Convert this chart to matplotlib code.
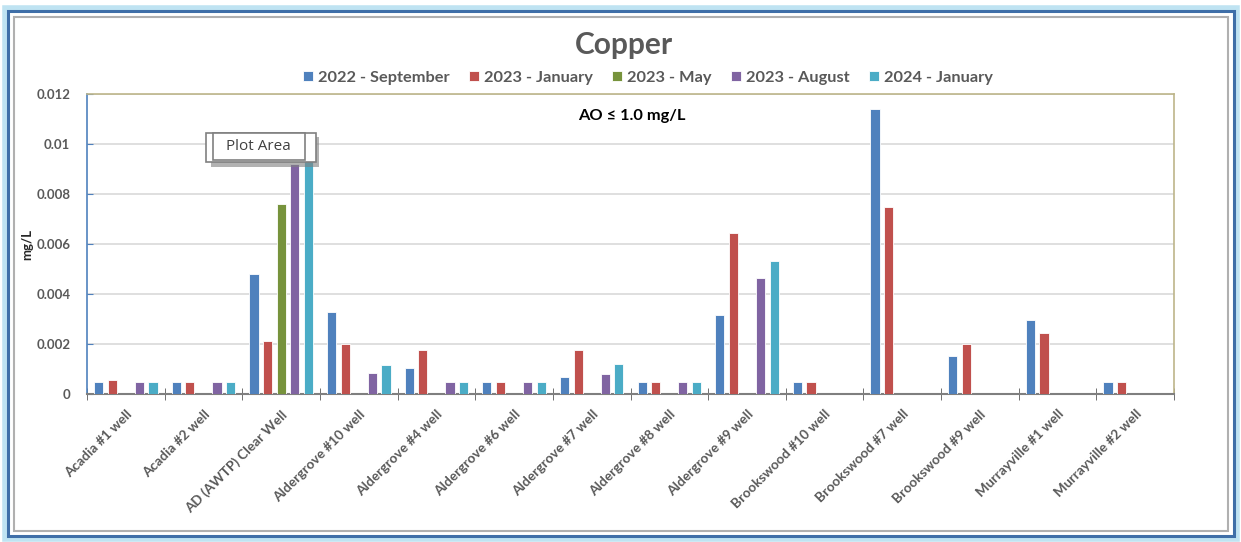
import numpy as np
import matplotlib.pyplot as plt
from matplotlib.patches import Rectangle

# Dados do gráfico (mg/L)
locais = ['Acadia #1 well', 'Acadia #2 well', 'AD (AWTP) Clear Well', 'Aldergrove #10 well',
          'Aldergrove #4 well', 'Aldergrove #6 well', 'Aldergrove #7 well', 'Aldergrove #8 well',
          'Aldergrove #9 well', 'Brookswood #10 well', 'Brookswood #7 well', 'Brookswood #9 well',
          'Murrayville #1 well', 'Murrayville #2 well']
series = ['2022 - September', '2023 - January', '2023 - May', '2023 - August', '2024 - January']
set_2022 = [0.0005, 0.0005, 0.0048, 0.00327, 0.00105, 0.0005, 0.00068, 0.0005, 0.00315, 0.0005, 0.0114, 0.00152, 0.00297, 0.0005]
jan_2023 = [0.00055, 0.0005, 0.00213, 0.002, 0.00176, 0.0005, 0.00176, 0.0005, 0.00645, 0.0005, 0.0075, 0.002, 0.00243, 0.0005]
mai_2023 = [np.nan, np.nan, 0.0076, np.nan, np.nan, np.nan, np.nan, np.nan, np.nan, np.nan, np.nan, np.nan, np.nan, np.nan]
ago_2023 = [0.0005, 0.0005, 0.0092, 0.00085, 0.0005, 0.0005, 0.0008, 0.0005, 0.00465, np.nan, np.nan, np.nan, np.nan, np.nan]
jan_2024 = [0.0005, 0.0005, 0.0099, 0.00116, 0.0005, 0.0005, 0.00121, 0.0005, 0.00532, np.nan, np.nan, np.nan, np.nan, np.nan]
valores = [set_2022, jan_2023, mai_2023, ago_2023, jan_2024]
cores = ['#4F81BD', '#C0504D', '#77933C', '#8064A2', '#4BACC6']

plt.rcParams['font.family'] = ['Lato', 'DejaVu Sans']
cinza = '#595959'

fig = plt.figure(figsize=(12.41, 5.42), dpi=100, facecolor='white')
W, H = 1241, 542

def px(x, y):
    return x / W, 1 - y / H

# Moldura externa do gráfico (estilo Excel)
fig.patches.append(Rectangle(px(5, 539), 1232 / W, 531 / H, transform=fig.transFigure,
                             facecolor='none', edgecolor='#BFE3F2', lw=4, zorder=0))
fig.patches.append(Rectangle(px(8, 536), 1226 / W, 525 / H, transform=fig.transFigure,
                             facecolor='none', edgecolor='#3F6FA8', lw=2.2, zorder=0))
fig.patches.append(Rectangle(px(14, 531), 1214 / W, 514 / H, transform=fig.transFigure,
                             facecolor='none', edgecolor='#B0B0B0', lw=1.5, zorder=0))

ax = fig.add_axes([87 / W, 1 - 394 / H, (1174 - 87) / W, (394 - 94) / H], zorder=1)
x = np.arange(len(locais))
passo = 0.175
largura = 0.118
for i, (nome, vals, cor) in enumerate(zip(series, valores, cores)):
    ax.bar(x + (i - 2) * passo, vals, largura, color=cor, edgecolor='white', linewidth=0.6,
           label=nome, zorder=3)

ax.set_xlim(-0.5, len(locais) - 0.5)
ax.set_ylim(0, 0.012)
ax.set_yticks(np.arange(0, 0.0121, 0.002))
ax.set_yticklabels(['0', '0.002', '0.004', '0.006', '0.008', '0.01', '0.012'],
                   fontsize=9.5, fontweight='bold', color=cinza)
ax.yaxis.grid(True, color='#D9D9D9', lw=1.2, zorder=0)
ax.tick_params(axis='y', length=4, color='#4F81BD', direction='in', pad=12)

ax.set_xticks(x)
ax.set_xticklabels(locais, rotation=45, ha='right', rotation_mode='anchor',
                   fontsize=9.8, fontweight='bold', color=cinza)
ax.tick_params(axis='x', length=0, pad=10)
ax.set_xticks(np.arange(-0.5, len(locais)), minor=True)
ax.tick_params(axis='x', which='minor', length=9, direction='inout', color='#595959')

ax.spines['left'].set_color('#4F81BD')
ax.spines['left'].set_linewidth(1.2)
ax.spines['bottom'].set_color('#7F7F7F')
ax.spines['bottom'].set_linewidth(1.5)
for s in ['top', 'right']:
    ax.spines[s].set_color('#BDB58A')
    ax.spines[s].set_linewidth(1.2)

ax.set_ylabel('mg/L', fontsize=9.5, fontweight='bold', color='#262626')
ax.yaxis.set_label_coords(-0.049, 0.5)

ax.text(0.501, 0.927, 'AO ≤ 1.0 mg/L', transform=ax.transAxes, ha='center', va='center',
        fontsize=11.8, fontweight='bold', color='black')

fig.text(*px(624, 45), 'Copper', ha='center', va='center', fontsize=21.5,
         fontweight='bold', color=cinza)
fig.legend(loc='center', bbox_to_anchor=px(648, 78), ncol=5, frameon=False,
           prop={'weight': 'bold', 'size': 11.8}, handlelength=0.6,
           handleheight=0.6, handletextpad=0.3, columnspacing=1.2, labelcolor=cinza)

# Dica "Plot Area" que aparece na captura
fig.patches.append(Rectangle(px(211, 167), 108 / W, 30 / H, transform=fig.transFigure,
                             facecolor='#7F7F7F', edgecolor='none', alpha=0.6, zorder=5))
fig.patches.append(Rectangle(px(206, 162), 110 / W, 29 / H, transform=fig.transFigure,
                             facecolor='white', edgecolor='#808080', lw=1.2, zorder=6))
fig.patches.append(Rectangle(px(213, 160), 92 / W, 27 / H, transform=fig.transFigure,
                             facecolor='white', edgecolor='#808080', lw=1.2, zorder=7))
fig.text(*px(258, 147), 'Plot Area', ha='center', va='center', fontsize=11,
         color='#404040', zorder=8, family=['Open Sans', 'DejaVu Sans'])

fig.savefig('out.png', dpi=100)
